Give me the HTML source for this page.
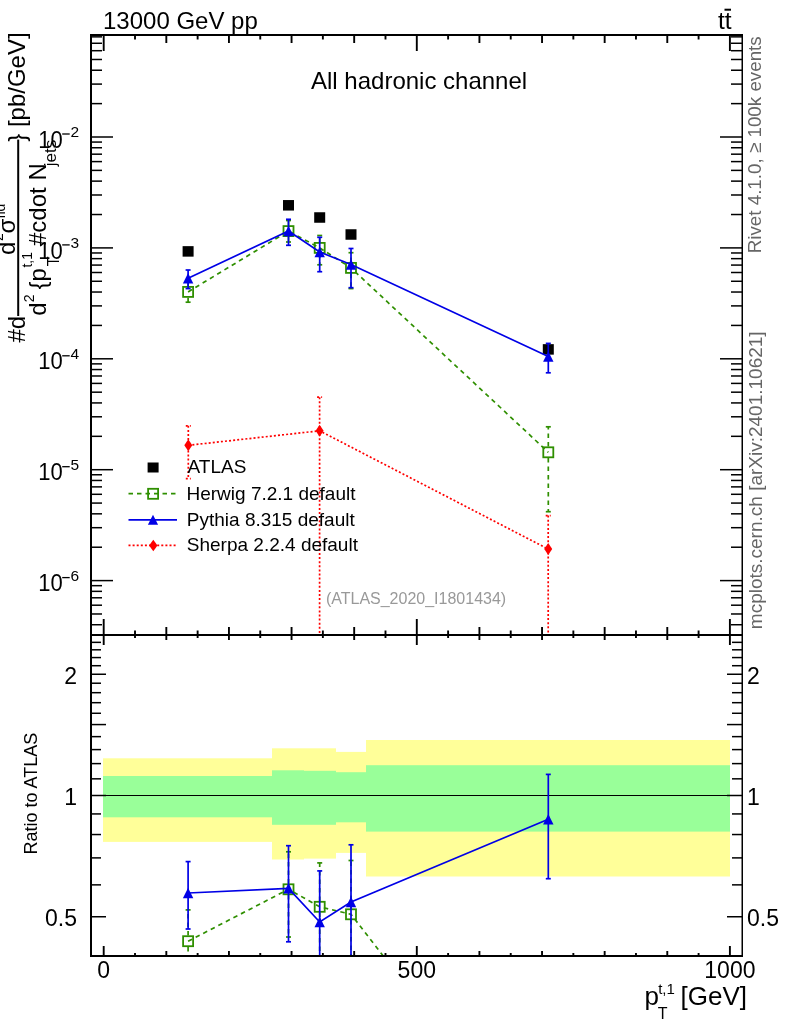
<!DOCTYPE html>
<html><head><meta charset="utf-8"><style>
html,body{margin:0;padding:0;background:#fff;}
svg{display:block;will-change:transform;}
text{font-family:"Liberation Sans", sans-serif;}
</style></head><body>
<svg width="786" height="1024" viewBox="0 0 786 1024">
<rect x="103.0" y="758.3" width="169.0" height="83.6" fill="#ffff99"/>
<rect x="272.0" y="748.3" width="32.0" height="111.2" fill="#ffff99"/>
<rect x="304.0" y="748.3" width="32.0" height="110.3" fill="#ffff99"/>
<rect x="336.0" y="751.9" width="30.0" height="101.0" fill="#ffff99"/>
<rect x="366.0" y="740.0" width="364.0" height="136.5" fill="#ffff99"/>
<rect x="103.0" y="776.0" width="169.0" height="41.3" fill="#99ff99"/>
<rect x="272.0" y="770.3" width="32.0" height="54.5" fill="#99ff99"/>
<rect x="304.0" y="770.8" width="32.0" height="54.0" fill="#99ff99"/>
<rect x="336.0" y="772.2" width="30.0" height="50.1" fill="#99ff99"/>
<rect x="366.0" y="765.2" width="364.0" height="66.4" fill="#99ff99"/>
<line x1="91" y1="795.5" x2="742" y2="795.5" stroke="#000" stroke-width="1.2"/>
<svg x="91" y="35" width="651" height="600" viewBox="91 35 651 600" overflow="hidden">
<rect x="182.60" y="246.15" width="11" height="10.5" fill="#000"/>
<rect x="283.00" y="200.05" width="11" height="10.5" fill="#000"/>
<rect x="314.20" y="212.25" width="11" height="10.5" fill="#000"/>
<rect x="345.50" y="229.25" width="11" height="10.5" fill="#000"/>
<rect x="542.80" y="344.15" width="11" height="10.5" fill="#000"/>
<polyline points="188.30,445.30 319.60,430.80 548.20,549.10" fill="none" stroke="#ff0000" stroke-width="1.7" stroke-dasharray="2 2.1"/>
<line x1="188.30" y1="425.80" x2="188.30" y2="478.70" stroke="#ff0000" stroke-width="1.7" stroke-dasharray="2 2.1"/><line x1="185.80" y1="425.80" x2="190.80" y2="425.80" stroke="#ff0000" stroke-width="1.7" stroke-dasharray="2 2.1"/><line x1="185.80" y1="478.70" x2="190.80" y2="478.70" stroke="#ff0000" stroke-width="1.7" stroke-dasharray="2 2.1"/>
<line x1="319.60" y1="397.20" x2="319.60" y2="640.00" stroke="#ff0000" stroke-width="1.7" stroke-dasharray="2 2.1"/><line x1="317.10" y1="397.20" x2="322.10" y2="397.20" stroke="#ff0000" stroke-width="1.7" stroke-dasharray="2 2.1"/>
<line x1="548.20" y1="515.60" x2="548.20" y2="640.00" stroke="#ff0000" stroke-width="1.7" stroke-dasharray="2 2.1"/><line x1="545.70" y1="515.60" x2="550.70" y2="515.60" stroke="#ff0000" stroke-width="1.7" stroke-dasharray="2 2.1"/>
<path d="M188.30,439.30 L192.30,445.30 L188.30,451.30 L184.30,445.30 Z" fill="#ff0000"/>
<path d="M319.60,424.80 L323.60,430.80 L319.60,436.80 L315.60,430.80 Z" fill="#ff0000"/>
<path d="M548.20,543.10 L552.20,549.10 L548.20,555.10 L544.20,549.10 Z" fill="#ff0000"/>
<polyline points="188.10,291.90 288.50,231.10 319.70,247.90 351.00,267.90 548.30,452.30" fill="none" stroke="#2f8f00" stroke-width="1.7" stroke-dasharray="4.5 4"/>
<line x1="188.10" y1="286.10" x2="188.10" y2="282.00" stroke="#2f8f00" stroke-width="1.7" stroke-dasharray="4.5 4"/><line x1="185.60" y1="282.00" x2="190.60" y2="282.00" stroke="#2f8f00" stroke-width="1.7"/><line x1="188.10" y1="297.70" x2="188.10" y2="302.20" stroke="#2f8f00" stroke-width="1.7" stroke-dasharray="4.5 4"/><line x1="185.60" y1="302.20" x2="190.60" y2="302.20" stroke="#2f8f00" stroke-width="1.7"/>
<line x1="288.50" y1="225.30" x2="288.50" y2="220.50" stroke="#2f8f00" stroke-width="1.7" stroke-dasharray="4.5 4"/><line x1="286.00" y1="220.50" x2="291.00" y2="220.50" stroke="#2f8f00" stroke-width="1.7"/><line x1="288.50" y1="236.90" x2="288.50" y2="242.00" stroke="#2f8f00" stroke-width="1.7" stroke-dasharray="4.5 4"/><line x1="286.00" y1="242.00" x2="291.00" y2="242.00" stroke="#2f8f00" stroke-width="1.7"/>
<line x1="319.70" y1="242.10" x2="319.70" y2="235.50" stroke="#2f8f00" stroke-width="1.7" stroke-dasharray="4.5 4"/><line x1="317.20" y1="235.50" x2="322.20" y2="235.50" stroke="#2f8f00" stroke-width="1.7"/><line x1="319.70" y1="253.70" x2="319.70" y2="264.80" stroke="#2f8f00" stroke-width="1.7" stroke-dasharray="4.5 4"/><line x1="317.20" y1="264.80" x2="322.20" y2="264.80" stroke="#2f8f00" stroke-width="1.7"/>
<line x1="351.00" y1="262.10" x2="351.00" y2="252.70" stroke="#2f8f00" stroke-width="1.7" stroke-dasharray="4.5 4"/><line x1="348.50" y1="252.70" x2="353.50" y2="252.70" stroke="#2f8f00" stroke-width="1.7"/><line x1="351.00" y1="273.70" x2="351.00" y2="288.60" stroke="#2f8f00" stroke-width="1.7" stroke-dasharray="4.5 4"/><line x1="348.50" y1="288.60" x2="353.50" y2="288.60" stroke="#2f8f00" stroke-width="1.7"/>
<line x1="548.30" y1="446.50" x2="548.30" y2="426.80" stroke="#2f8f00" stroke-width="1.7" stroke-dasharray="4.5 4"/><line x1="545.80" y1="426.80" x2="550.80" y2="426.80" stroke="#2f8f00" stroke-width="1.7"/><line x1="548.30" y1="458.10" x2="548.30" y2="511.70" stroke="#2f8f00" stroke-width="1.7" stroke-dasharray="4.5 4"/><line x1="545.80" y1="511.70" x2="550.80" y2="511.70" stroke="#2f8f00" stroke-width="1.7"/>
<rect x="183.10" y="286.90" width="10" height="10" fill="none" stroke="#2f8f00" stroke-width="1.8"/>
<rect x="283.50" y="226.10" width="10" height="10" fill="none" stroke="#2f8f00" stroke-width="1.8"/>
<rect x="314.70" y="242.90" width="10" height="10" fill="none" stroke="#2f8f00" stroke-width="1.8"/>
<rect x="346.00" y="262.90" width="10" height="10" fill="none" stroke="#2f8f00" stroke-width="1.8"/>
<rect x="543.30" y="447.30" width="10" height="10" fill="none" stroke="#2f8f00" stroke-width="1.8"/>
<polyline points="188.10,278.30 288.50,231.00 319.70,252.00 351.00,264.50 548.30,356.50" fill="none" stroke="#0000e6" stroke-width="1.7"/>
<line x1="188.10" y1="270.00" x2="188.10" y2="288.60" stroke="#0000e6" stroke-width="1.7"/><line x1="185.60" y1="270.00" x2="190.60" y2="270.00" stroke="#0000e6" stroke-width="1.7"/><line x1="185.60" y1="288.60" x2="190.60" y2="288.60" stroke="#0000e6" stroke-width="1.7"/>
<line x1="288.50" y1="219.30" x2="288.50" y2="245.30" stroke="#0000e6" stroke-width="1.7"/><line x1="286.00" y1="219.30" x2="291.00" y2="219.30" stroke="#0000e6" stroke-width="1.7"/><line x1="286.00" y1="245.30" x2="291.00" y2="245.30" stroke="#0000e6" stroke-width="1.7"/>
<line x1="319.70" y1="237.30" x2="319.70" y2="271.70" stroke="#0000e6" stroke-width="1.7"/><line x1="317.20" y1="237.30" x2="322.20" y2="237.30" stroke="#0000e6" stroke-width="1.7"/><line x1="317.20" y1="271.70" x2="322.20" y2="271.70" stroke="#0000e6" stroke-width="1.7"/>
<line x1="351.00" y1="248.50" x2="351.00" y2="287.70" stroke="#0000e6" stroke-width="1.7"/><line x1="348.50" y1="248.50" x2="353.50" y2="248.50" stroke="#0000e6" stroke-width="1.7"/><line x1="348.50" y1="287.70" x2="353.50" y2="287.70" stroke="#0000e6" stroke-width="1.7"/>
<line x1="548.30" y1="343.40" x2="548.30" y2="372.80" stroke="#0000e6" stroke-width="1.7"/><line x1="545.80" y1="343.40" x2="550.80" y2="343.40" stroke="#0000e6" stroke-width="1.7"/><line x1="545.80" y1="372.80" x2="550.80" y2="372.80" stroke="#0000e6" stroke-width="1.7"/>
<path d="M182.90,283.55 L193.30,283.55 L188.10,273.05 Z" fill="#0000e6"/>
<path d="M283.30,236.25 L293.70,236.25 L288.50,225.75 Z" fill="#0000e6"/>
<path d="M314.50,257.25 L324.90,257.25 L319.70,246.75 Z" fill="#0000e6"/>
<path d="M345.80,269.75 L356.20,269.75 L351.00,259.25 Z" fill="#0000e6"/>
<path d="M543.10,361.75 L553.50,361.75 L548.30,351.25 Z" fill="#0000e6"/>
</svg>
<svg x="91" y="635" width="651" height="321" viewBox="91 635 651 321" overflow="hidden">
<polyline points="188.10,941.20 288.50,889.30 319.70,906.80 351.00,914.30 548.30,1169.30" fill="none" stroke="#2f8f00" stroke-width="1.7" stroke-dasharray="4.5 4"/>
<line x1="188.10" y1="935.40" x2="188.10" y2="909.90" stroke="#2f8f00" stroke-width="1.7" stroke-dasharray="4.5 4"/><line x1="185.60" y1="909.90" x2="190.60" y2="909.90" stroke="#2f8f00" stroke-width="1.7"/><line x1="188.10" y1="947.00" x2="188.10" y2="975.00" stroke="#2f8f00" stroke-width="1.7" stroke-dasharray="4.5 4"/>
<line x1="288.50" y1="883.50" x2="288.50" y2="851.80" stroke="#2f8f00" stroke-width="1.7" stroke-dasharray="4.5 4"/><line x1="286.00" y1="851.80" x2="291.00" y2="851.80" stroke="#2f8f00" stroke-width="1.7"/><line x1="288.50" y1="895.10" x2="288.50" y2="937.00" stroke="#2f8f00" stroke-width="1.7" stroke-dasharray="4.5 4"/><line x1="286.00" y1="937.00" x2="291.00" y2="937.00" stroke="#2f8f00" stroke-width="1.7"/>
<line x1="319.70" y1="901.00" x2="319.70" y2="862.90" stroke="#2f8f00" stroke-width="1.7" stroke-dasharray="4.5 4"/><line x1="317.20" y1="862.90" x2="322.20" y2="862.90" stroke="#2f8f00" stroke-width="1.7"/><line x1="319.70" y1="912.60" x2="319.70" y2="960.00" stroke="#2f8f00" stroke-width="1.7" stroke-dasharray="4.5 4"/>
<line x1="351.00" y1="908.50" x2="351.00" y2="860.50" stroke="#2f8f00" stroke-width="1.7" stroke-dasharray="4.5 4"/><line x1="348.50" y1="860.50" x2="353.50" y2="860.50" stroke="#2f8f00" stroke-width="1.7"/><line x1="351.00" y1="920.10" x2="351.00" y2="975.00" stroke="#2f8f00" stroke-width="1.7" stroke-dasharray="4.5 4"/>
<rect x="183.10" y="936.20" width="10" height="10" fill="none" stroke="#2f8f00" stroke-width="1.8"/>
<rect x="283.50" y="884.30" width="10" height="10" fill="none" stroke="#2f8f00" stroke-width="1.8"/>
<rect x="314.70" y="901.80" width="10" height="10" fill="none" stroke="#2f8f00" stroke-width="1.8"/>
<rect x="346.00" y="909.30" width="10" height="10" fill="none" stroke="#2f8f00" stroke-width="1.8"/>
<rect x="543.30" y="1164.30" width="10" height="10" fill="none" stroke="#2f8f00" stroke-width="1.8"/>
<polyline points="188.10,893.00 288.50,888.30 319.70,922.00 351.00,902.00 548.30,819.20" fill="none" stroke="#0000e6" stroke-width="1.7"/>
<line x1="188.10" y1="861.60" x2="188.10" y2="929.00" stroke="#0000e6" stroke-width="1.7"/><line x1="185.60" y1="861.60" x2="190.60" y2="861.60" stroke="#0000e6" stroke-width="1.7"/><line x1="185.60" y1="929.00" x2="190.60" y2="929.00" stroke="#0000e6" stroke-width="1.7"/>
<line x1="288.50" y1="845.70" x2="288.50" y2="941.80" stroke="#0000e6" stroke-width="1.7"/><line x1="286.00" y1="845.70" x2="291.00" y2="845.70" stroke="#0000e6" stroke-width="1.7"/><line x1="286.00" y1="941.80" x2="291.00" y2="941.80" stroke="#0000e6" stroke-width="1.7"/>
<line x1="319.70" y1="870.90" x2="319.70" y2="990.00" stroke="#0000e6" stroke-width="1.7"/><line x1="317.20" y1="870.90" x2="322.20" y2="870.90" stroke="#0000e6" stroke-width="1.7"/>
<line x1="351.00" y1="844.80" x2="351.00" y2="990.00" stroke="#0000e6" stroke-width="1.7"/><line x1="348.50" y1="844.80" x2="353.50" y2="844.80" stroke="#0000e6" stroke-width="1.7"/>
<line x1="548.30" y1="774.40" x2="548.30" y2="878.70" stroke="#0000e6" stroke-width="1.7"/><line x1="545.80" y1="774.40" x2="550.80" y2="774.40" stroke="#0000e6" stroke-width="1.7"/><line x1="545.80" y1="878.70" x2="550.80" y2="878.70" stroke="#0000e6" stroke-width="1.7"/>
<path d="M182.90,898.25 L193.30,898.25 L188.10,887.75 Z" fill="#0000e6"/>
<path d="M283.30,893.55 L293.70,893.55 L288.50,883.05 Z" fill="#0000e6"/>
<path d="M314.50,927.25 L324.90,927.25 L319.70,916.75 Z" fill="#0000e6"/>
<path d="M345.80,907.25 L356.20,907.25 L351.00,896.75 Z" fill="#0000e6"/>
<path d="M543.10,824.45 L553.50,824.45 L548.30,813.95 Z" fill="#0000e6"/>
</svg>
<line x1="103.70" y1="35.00" x2="103.70" y2="51.00" stroke="#000" stroke-width="1.9"/>
<line x1="103.70" y1="635.00" x2="103.70" y2="619.00" stroke="#000" stroke-width="1.9"/>
<line x1="103.70" y1="635.00" x2="103.70" y2="645.00" stroke="#000" stroke-width="1.9"/>
<line x1="103.70" y1="956.00" x2="103.70" y2="946.00" stroke="#000" stroke-width="1.9"/>
<line x1="135.01" y1="35.00" x2="135.01" y2="39.50" stroke="#000" stroke-width="1.9"/>
<line x1="135.01" y1="635.00" x2="135.01" y2="630.50" stroke="#000" stroke-width="1.9"/>
<line x1="135.01" y1="635.00" x2="135.01" y2="638.00" stroke="#000" stroke-width="1.9"/>
<line x1="135.01" y1="956.00" x2="135.01" y2="953.00" stroke="#000" stroke-width="1.9"/>
<line x1="166.32" y1="35.00" x2="166.32" y2="43.00" stroke="#000" stroke-width="1.9"/>
<line x1="166.32" y1="635.00" x2="166.32" y2="627.00" stroke="#000" stroke-width="1.9"/>
<line x1="166.32" y1="635.00" x2="166.32" y2="640.00" stroke="#000" stroke-width="1.9"/>
<line x1="166.32" y1="956.00" x2="166.32" y2="951.00" stroke="#000" stroke-width="1.9"/>
<line x1="197.63" y1="35.00" x2="197.63" y2="39.50" stroke="#000" stroke-width="1.9"/>
<line x1="197.63" y1="635.00" x2="197.63" y2="630.50" stroke="#000" stroke-width="1.9"/>
<line x1="197.63" y1="635.00" x2="197.63" y2="638.00" stroke="#000" stroke-width="1.9"/>
<line x1="197.63" y1="956.00" x2="197.63" y2="953.00" stroke="#000" stroke-width="1.9"/>
<line x1="228.94" y1="35.00" x2="228.94" y2="43.00" stroke="#000" stroke-width="1.9"/>
<line x1="228.94" y1="635.00" x2="228.94" y2="627.00" stroke="#000" stroke-width="1.9"/>
<line x1="228.94" y1="635.00" x2="228.94" y2="640.00" stroke="#000" stroke-width="1.9"/>
<line x1="228.94" y1="956.00" x2="228.94" y2="951.00" stroke="#000" stroke-width="1.9"/>
<line x1="260.25" y1="35.00" x2="260.25" y2="39.50" stroke="#000" stroke-width="1.9"/>
<line x1="260.25" y1="635.00" x2="260.25" y2="630.50" stroke="#000" stroke-width="1.9"/>
<line x1="260.25" y1="635.00" x2="260.25" y2="638.00" stroke="#000" stroke-width="1.9"/>
<line x1="260.25" y1="956.00" x2="260.25" y2="953.00" stroke="#000" stroke-width="1.9"/>
<line x1="291.56" y1="35.00" x2="291.56" y2="43.00" stroke="#000" stroke-width="1.9"/>
<line x1="291.56" y1="635.00" x2="291.56" y2="627.00" stroke="#000" stroke-width="1.9"/>
<line x1="291.56" y1="635.00" x2="291.56" y2="640.00" stroke="#000" stroke-width="1.9"/>
<line x1="291.56" y1="956.00" x2="291.56" y2="951.00" stroke="#000" stroke-width="1.9"/>
<line x1="322.87" y1="35.00" x2="322.87" y2="39.50" stroke="#000" stroke-width="1.9"/>
<line x1="322.87" y1="635.00" x2="322.87" y2="630.50" stroke="#000" stroke-width="1.9"/>
<line x1="322.87" y1="635.00" x2="322.87" y2="638.00" stroke="#000" stroke-width="1.9"/>
<line x1="322.87" y1="956.00" x2="322.87" y2="953.00" stroke="#000" stroke-width="1.9"/>
<line x1="354.18" y1="35.00" x2="354.18" y2="43.00" stroke="#000" stroke-width="1.9"/>
<line x1="354.18" y1="635.00" x2="354.18" y2="627.00" stroke="#000" stroke-width="1.9"/>
<line x1="354.18" y1="635.00" x2="354.18" y2="640.00" stroke="#000" stroke-width="1.9"/>
<line x1="354.18" y1="956.00" x2="354.18" y2="951.00" stroke="#000" stroke-width="1.9"/>
<line x1="385.49" y1="35.00" x2="385.49" y2="39.50" stroke="#000" stroke-width="1.9"/>
<line x1="385.49" y1="635.00" x2="385.49" y2="630.50" stroke="#000" stroke-width="1.9"/>
<line x1="385.49" y1="635.00" x2="385.49" y2="638.00" stroke="#000" stroke-width="1.9"/>
<line x1="385.49" y1="956.00" x2="385.49" y2="953.00" stroke="#000" stroke-width="1.9"/>
<line x1="416.80" y1="35.00" x2="416.80" y2="51.00" stroke="#000" stroke-width="1.9"/>
<line x1="416.80" y1="635.00" x2="416.80" y2="619.00" stroke="#000" stroke-width="1.9"/>
<line x1="416.80" y1="635.00" x2="416.80" y2="645.00" stroke="#000" stroke-width="1.9"/>
<line x1="416.80" y1="956.00" x2="416.80" y2="946.00" stroke="#000" stroke-width="1.9"/>
<line x1="448.11" y1="35.00" x2="448.11" y2="39.50" stroke="#000" stroke-width="1.9"/>
<line x1="448.11" y1="635.00" x2="448.11" y2="630.50" stroke="#000" stroke-width="1.9"/>
<line x1="448.11" y1="635.00" x2="448.11" y2="638.00" stroke="#000" stroke-width="1.9"/>
<line x1="448.11" y1="956.00" x2="448.11" y2="953.00" stroke="#000" stroke-width="1.9"/>
<line x1="479.42" y1="35.00" x2="479.42" y2="43.00" stroke="#000" stroke-width="1.9"/>
<line x1="479.42" y1="635.00" x2="479.42" y2="627.00" stroke="#000" stroke-width="1.9"/>
<line x1="479.42" y1="635.00" x2="479.42" y2="640.00" stroke="#000" stroke-width="1.9"/>
<line x1="479.42" y1="956.00" x2="479.42" y2="951.00" stroke="#000" stroke-width="1.9"/>
<line x1="510.73" y1="35.00" x2="510.73" y2="39.50" stroke="#000" stroke-width="1.9"/>
<line x1="510.73" y1="635.00" x2="510.73" y2="630.50" stroke="#000" stroke-width="1.9"/>
<line x1="510.73" y1="635.00" x2="510.73" y2="638.00" stroke="#000" stroke-width="1.9"/>
<line x1="510.73" y1="956.00" x2="510.73" y2="953.00" stroke="#000" stroke-width="1.9"/>
<line x1="542.04" y1="35.00" x2="542.04" y2="43.00" stroke="#000" stroke-width="1.9"/>
<line x1="542.04" y1="635.00" x2="542.04" y2="627.00" stroke="#000" stroke-width="1.9"/>
<line x1="542.04" y1="635.00" x2="542.04" y2="640.00" stroke="#000" stroke-width="1.9"/>
<line x1="542.04" y1="956.00" x2="542.04" y2="951.00" stroke="#000" stroke-width="1.9"/>
<line x1="573.35" y1="35.00" x2="573.35" y2="39.50" stroke="#000" stroke-width="1.9"/>
<line x1="573.35" y1="635.00" x2="573.35" y2="630.50" stroke="#000" stroke-width="1.9"/>
<line x1="573.35" y1="635.00" x2="573.35" y2="638.00" stroke="#000" stroke-width="1.9"/>
<line x1="573.35" y1="956.00" x2="573.35" y2="953.00" stroke="#000" stroke-width="1.9"/>
<line x1="604.66" y1="35.00" x2="604.66" y2="43.00" stroke="#000" stroke-width="1.9"/>
<line x1="604.66" y1="635.00" x2="604.66" y2="627.00" stroke="#000" stroke-width="1.9"/>
<line x1="604.66" y1="635.00" x2="604.66" y2="640.00" stroke="#000" stroke-width="1.9"/>
<line x1="604.66" y1="956.00" x2="604.66" y2="951.00" stroke="#000" stroke-width="1.9"/>
<line x1="635.97" y1="35.00" x2="635.97" y2="39.50" stroke="#000" stroke-width="1.9"/>
<line x1="635.97" y1="635.00" x2="635.97" y2="630.50" stroke="#000" stroke-width="1.9"/>
<line x1="635.97" y1="635.00" x2="635.97" y2="638.00" stroke="#000" stroke-width="1.9"/>
<line x1="635.97" y1="956.00" x2="635.97" y2="953.00" stroke="#000" stroke-width="1.9"/>
<line x1="667.28" y1="35.00" x2="667.28" y2="43.00" stroke="#000" stroke-width="1.9"/>
<line x1="667.28" y1="635.00" x2="667.28" y2="627.00" stroke="#000" stroke-width="1.9"/>
<line x1="667.28" y1="635.00" x2="667.28" y2="640.00" stroke="#000" stroke-width="1.9"/>
<line x1="667.28" y1="956.00" x2="667.28" y2="951.00" stroke="#000" stroke-width="1.9"/>
<line x1="698.59" y1="35.00" x2="698.59" y2="39.50" stroke="#000" stroke-width="1.9"/>
<line x1="698.59" y1="635.00" x2="698.59" y2="630.50" stroke="#000" stroke-width="1.9"/>
<line x1="698.59" y1="635.00" x2="698.59" y2="638.00" stroke="#000" stroke-width="1.9"/>
<line x1="698.59" y1="956.00" x2="698.59" y2="953.00" stroke="#000" stroke-width="1.9"/>
<line x1="729.90" y1="35.00" x2="729.90" y2="51.00" stroke="#000" stroke-width="1.9"/>
<line x1="729.90" y1="635.00" x2="729.90" y2="619.00" stroke="#000" stroke-width="1.9"/>
<line x1="729.90" y1="635.00" x2="729.90" y2="645.00" stroke="#000" stroke-width="1.9"/>
<line x1="729.90" y1="956.00" x2="729.90" y2="946.00" stroke="#000" stroke-width="1.9"/>
<line x1="91.00" y1="624.73" x2="102.00" y2="624.73" stroke="#000" stroke-width="1.5"/>
<line x1="742.00" y1="624.73" x2="731.00" y2="624.73" stroke="#000" stroke-width="1.5"/>
<line x1="91.00" y1="613.98" x2="102.00" y2="613.98" stroke="#000" stroke-width="1.5"/>
<line x1="742.00" y1="613.98" x2="731.00" y2="613.98" stroke="#000" stroke-width="1.5"/>
<line x1="91.00" y1="605.20" x2="102.00" y2="605.20" stroke="#000" stroke-width="1.5"/>
<line x1="742.00" y1="605.20" x2="731.00" y2="605.20" stroke="#000" stroke-width="1.5"/>
<line x1="91.00" y1="597.78" x2="102.00" y2="597.78" stroke="#000" stroke-width="1.5"/>
<line x1="742.00" y1="597.78" x2="731.00" y2="597.78" stroke="#000" stroke-width="1.5"/>
<line x1="91.00" y1="591.35" x2="102.00" y2="591.35" stroke="#000" stroke-width="1.5"/>
<line x1="742.00" y1="591.35" x2="731.00" y2="591.35" stroke="#000" stroke-width="1.5"/>
<line x1="91.00" y1="585.67" x2="102.00" y2="585.67" stroke="#000" stroke-width="1.5"/>
<line x1="742.00" y1="585.67" x2="731.00" y2="585.67" stroke="#000" stroke-width="1.5"/>
<line x1="91.00" y1="580.60" x2="113.00" y2="580.60" stroke="#000" stroke-width="1.5"/>
<line x1="742.00" y1="580.60" x2="720.00" y2="580.60" stroke="#000" stroke-width="1.5"/>
<line x1="91.00" y1="547.22" x2="102.00" y2="547.22" stroke="#000" stroke-width="1.5"/>
<line x1="742.00" y1="547.22" x2="731.00" y2="547.22" stroke="#000" stroke-width="1.5"/>
<line x1="91.00" y1="527.69" x2="102.00" y2="527.69" stroke="#000" stroke-width="1.5"/>
<line x1="742.00" y1="527.69" x2="731.00" y2="527.69" stroke="#000" stroke-width="1.5"/>
<line x1="91.00" y1="513.83" x2="102.00" y2="513.83" stroke="#000" stroke-width="1.5"/>
<line x1="742.00" y1="513.83" x2="731.00" y2="513.83" stroke="#000" stroke-width="1.5"/>
<line x1="91.00" y1="503.08" x2="102.00" y2="503.08" stroke="#000" stroke-width="1.5"/>
<line x1="742.00" y1="503.08" x2="731.00" y2="503.08" stroke="#000" stroke-width="1.5"/>
<line x1="91.00" y1="494.30" x2="102.00" y2="494.30" stroke="#000" stroke-width="1.5"/>
<line x1="742.00" y1="494.30" x2="731.00" y2="494.30" stroke="#000" stroke-width="1.5"/>
<line x1="91.00" y1="486.88" x2="102.00" y2="486.88" stroke="#000" stroke-width="1.5"/>
<line x1="742.00" y1="486.88" x2="731.00" y2="486.88" stroke="#000" stroke-width="1.5"/>
<line x1="91.00" y1="480.45" x2="102.00" y2="480.45" stroke="#000" stroke-width="1.5"/>
<line x1="742.00" y1="480.45" x2="731.00" y2="480.45" stroke="#000" stroke-width="1.5"/>
<line x1="91.00" y1="474.77" x2="102.00" y2="474.77" stroke="#000" stroke-width="1.5"/>
<line x1="742.00" y1="474.77" x2="731.00" y2="474.77" stroke="#000" stroke-width="1.5"/>
<line x1="91.00" y1="469.70" x2="113.00" y2="469.70" stroke="#000" stroke-width="1.5"/>
<line x1="742.00" y1="469.70" x2="720.00" y2="469.70" stroke="#000" stroke-width="1.5"/>
<line x1="91.00" y1="436.32" x2="102.00" y2="436.32" stroke="#000" stroke-width="1.5"/>
<line x1="742.00" y1="436.32" x2="731.00" y2="436.32" stroke="#000" stroke-width="1.5"/>
<line x1="91.00" y1="416.79" x2="102.00" y2="416.79" stroke="#000" stroke-width="1.5"/>
<line x1="742.00" y1="416.79" x2="731.00" y2="416.79" stroke="#000" stroke-width="1.5"/>
<line x1="91.00" y1="402.93" x2="102.00" y2="402.93" stroke="#000" stroke-width="1.5"/>
<line x1="742.00" y1="402.93" x2="731.00" y2="402.93" stroke="#000" stroke-width="1.5"/>
<line x1="91.00" y1="392.18" x2="102.00" y2="392.18" stroke="#000" stroke-width="1.5"/>
<line x1="742.00" y1="392.18" x2="731.00" y2="392.18" stroke="#000" stroke-width="1.5"/>
<line x1="91.00" y1="383.40" x2="102.00" y2="383.40" stroke="#000" stroke-width="1.5"/>
<line x1="742.00" y1="383.40" x2="731.00" y2="383.40" stroke="#000" stroke-width="1.5"/>
<line x1="91.00" y1="375.98" x2="102.00" y2="375.98" stroke="#000" stroke-width="1.5"/>
<line x1="742.00" y1="375.98" x2="731.00" y2="375.98" stroke="#000" stroke-width="1.5"/>
<line x1="91.00" y1="369.55" x2="102.00" y2="369.55" stroke="#000" stroke-width="1.5"/>
<line x1="742.00" y1="369.55" x2="731.00" y2="369.55" stroke="#000" stroke-width="1.5"/>
<line x1="91.00" y1="363.87" x2="102.00" y2="363.87" stroke="#000" stroke-width="1.5"/>
<line x1="742.00" y1="363.87" x2="731.00" y2="363.87" stroke="#000" stroke-width="1.5"/>
<line x1="91.00" y1="358.80" x2="113.00" y2="358.80" stroke="#000" stroke-width="1.5"/>
<line x1="742.00" y1="358.80" x2="720.00" y2="358.80" stroke="#000" stroke-width="1.5"/>
<line x1="91.00" y1="325.42" x2="102.00" y2="325.42" stroke="#000" stroke-width="1.5"/>
<line x1="742.00" y1="325.42" x2="731.00" y2="325.42" stroke="#000" stroke-width="1.5"/>
<line x1="91.00" y1="305.89" x2="102.00" y2="305.89" stroke="#000" stroke-width="1.5"/>
<line x1="742.00" y1="305.89" x2="731.00" y2="305.89" stroke="#000" stroke-width="1.5"/>
<line x1="91.00" y1="292.03" x2="102.00" y2="292.03" stroke="#000" stroke-width="1.5"/>
<line x1="742.00" y1="292.03" x2="731.00" y2="292.03" stroke="#000" stroke-width="1.5"/>
<line x1="91.00" y1="281.28" x2="102.00" y2="281.28" stroke="#000" stroke-width="1.5"/>
<line x1="742.00" y1="281.28" x2="731.00" y2="281.28" stroke="#000" stroke-width="1.5"/>
<line x1="91.00" y1="272.50" x2="102.00" y2="272.50" stroke="#000" stroke-width="1.5"/>
<line x1="742.00" y1="272.50" x2="731.00" y2="272.50" stroke="#000" stroke-width="1.5"/>
<line x1="91.00" y1="265.08" x2="102.00" y2="265.08" stroke="#000" stroke-width="1.5"/>
<line x1="742.00" y1="265.08" x2="731.00" y2="265.08" stroke="#000" stroke-width="1.5"/>
<line x1="91.00" y1="258.65" x2="102.00" y2="258.65" stroke="#000" stroke-width="1.5"/>
<line x1="742.00" y1="258.65" x2="731.00" y2="258.65" stroke="#000" stroke-width="1.5"/>
<line x1="91.00" y1="252.97" x2="102.00" y2="252.97" stroke="#000" stroke-width="1.5"/>
<line x1="742.00" y1="252.97" x2="731.00" y2="252.97" stroke="#000" stroke-width="1.5"/>
<line x1="91.00" y1="247.90" x2="113.00" y2="247.90" stroke="#000" stroke-width="1.5"/>
<line x1="742.00" y1="247.90" x2="720.00" y2="247.90" stroke="#000" stroke-width="1.5"/>
<line x1="91.00" y1="214.52" x2="102.00" y2="214.52" stroke="#000" stroke-width="1.5"/>
<line x1="742.00" y1="214.52" x2="731.00" y2="214.52" stroke="#000" stroke-width="1.5"/>
<line x1="91.00" y1="194.99" x2="102.00" y2="194.99" stroke="#000" stroke-width="1.5"/>
<line x1="742.00" y1="194.99" x2="731.00" y2="194.99" stroke="#000" stroke-width="1.5"/>
<line x1="91.00" y1="181.13" x2="102.00" y2="181.13" stroke="#000" stroke-width="1.5"/>
<line x1="742.00" y1="181.13" x2="731.00" y2="181.13" stroke="#000" stroke-width="1.5"/>
<line x1="91.00" y1="170.38" x2="102.00" y2="170.38" stroke="#000" stroke-width="1.5"/>
<line x1="742.00" y1="170.38" x2="731.00" y2="170.38" stroke="#000" stroke-width="1.5"/>
<line x1="91.00" y1="161.60" x2="102.00" y2="161.60" stroke="#000" stroke-width="1.5"/>
<line x1="742.00" y1="161.60" x2="731.00" y2="161.60" stroke="#000" stroke-width="1.5"/>
<line x1="91.00" y1="154.18" x2="102.00" y2="154.18" stroke="#000" stroke-width="1.5"/>
<line x1="742.00" y1="154.18" x2="731.00" y2="154.18" stroke="#000" stroke-width="1.5"/>
<line x1="91.00" y1="147.75" x2="102.00" y2="147.75" stroke="#000" stroke-width="1.5"/>
<line x1="742.00" y1="147.75" x2="731.00" y2="147.75" stroke="#000" stroke-width="1.5"/>
<line x1="91.00" y1="142.07" x2="102.00" y2="142.07" stroke="#000" stroke-width="1.5"/>
<line x1="742.00" y1="142.07" x2="731.00" y2="142.07" stroke="#000" stroke-width="1.5"/>
<line x1="91.00" y1="137.00" x2="113.00" y2="137.00" stroke="#000" stroke-width="1.5"/>
<line x1="742.00" y1="137.00" x2="720.00" y2="137.00" stroke="#000" stroke-width="1.5"/>
<line x1="91.00" y1="103.62" x2="102.00" y2="103.62" stroke="#000" stroke-width="1.5"/>
<line x1="742.00" y1="103.62" x2="731.00" y2="103.62" stroke="#000" stroke-width="1.5"/>
<line x1="91.00" y1="84.09" x2="102.00" y2="84.09" stroke="#000" stroke-width="1.5"/>
<line x1="742.00" y1="84.09" x2="731.00" y2="84.09" stroke="#000" stroke-width="1.5"/>
<line x1="91.00" y1="70.23" x2="102.00" y2="70.23" stroke="#000" stroke-width="1.5"/>
<line x1="742.00" y1="70.23" x2="731.00" y2="70.23" stroke="#000" stroke-width="1.5"/>
<line x1="91.00" y1="59.48" x2="102.00" y2="59.48" stroke="#000" stroke-width="1.5"/>
<line x1="742.00" y1="59.48" x2="731.00" y2="59.48" stroke="#000" stroke-width="1.5"/>
<line x1="91.00" y1="50.70" x2="102.00" y2="50.70" stroke="#000" stroke-width="1.5"/>
<line x1="742.00" y1="50.70" x2="731.00" y2="50.70" stroke="#000" stroke-width="1.5"/>
<line x1="91.00" y1="43.28" x2="102.00" y2="43.28" stroke="#000" stroke-width="1.5"/>
<line x1="742.00" y1="43.28" x2="731.00" y2="43.28" stroke="#000" stroke-width="1.5"/>
<line x1="91.00" y1="36.85" x2="102.00" y2="36.85" stroke="#000" stroke-width="1.5"/>
<line x1="742.00" y1="36.85" x2="731.00" y2="36.85" stroke="#000" stroke-width="1.5"/>
<line x1="91.00" y1="916.75" x2="106.00" y2="916.75" stroke="#000" stroke-width="1.5"/>
<line x1="742.00" y1="916.75" x2="727.00" y2="916.75" stroke="#000" stroke-width="1.5"/>
<line x1="91.00" y1="884.86" x2="101.00" y2="884.86" stroke="#000" stroke-width="1.5"/>
<line x1="742.00" y1="884.86" x2="732.00" y2="884.86" stroke="#000" stroke-width="1.5"/>
<line x1="91.00" y1="857.89" x2="101.00" y2="857.89" stroke="#000" stroke-width="1.5"/>
<line x1="742.00" y1="857.89" x2="732.00" y2="857.89" stroke="#000" stroke-width="1.5"/>
<line x1="91.00" y1="834.54" x2="101.00" y2="834.54" stroke="#000" stroke-width="1.5"/>
<line x1="742.00" y1="834.54" x2="732.00" y2="834.54" stroke="#000" stroke-width="1.5"/>
<line x1="91.00" y1="813.93" x2="101.00" y2="813.93" stroke="#000" stroke-width="1.5"/>
<line x1="742.00" y1="813.93" x2="732.00" y2="813.93" stroke="#000" stroke-width="1.5"/>
<line x1="91.00" y1="795.50" x2="106.00" y2="795.50" stroke="#000" stroke-width="1.5"/>
<line x1="742.00" y1="795.50" x2="727.00" y2="795.50" stroke="#000" stroke-width="1.5"/>
<line x1="91.00" y1="778.83" x2="101.00" y2="778.83" stroke="#000" stroke-width="1.5"/>
<line x1="742.00" y1="778.83" x2="732.00" y2="778.83" stroke="#000" stroke-width="1.5"/>
<line x1="91.00" y1="763.61" x2="101.00" y2="763.61" stroke="#000" stroke-width="1.5"/>
<line x1="742.00" y1="763.61" x2="732.00" y2="763.61" stroke="#000" stroke-width="1.5"/>
<line x1="91.00" y1="749.60" x2="101.00" y2="749.60" stroke="#000" stroke-width="1.5"/>
<line x1="742.00" y1="749.60" x2="732.00" y2="749.60" stroke="#000" stroke-width="1.5"/>
<line x1="91.00" y1="736.64" x2="101.00" y2="736.64" stroke="#000" stroke-width="1.5"/>
<line x1="742.00" y1="736.64" x2="732.00" y2="736.64" stroke="#000" stroke-width="1.5"/>
<line x1="91.00" y1="724.57" x2="106.00" y2="724.57" stroke="#000" stroke-width="1.5"/>
<line x1="742.00" y1="724.57" x2="727.00" y2="724.57" stroke="#000" stroke-width="1.5"/>
<line x1="91.00" y1="713.28" x2="101.00" y2="713.28" stroke="#000" stroke-width="1.5"/>
<line x1="742.00" y1="713.28" x2="732.00" y2="713.28" stroke="#000" stroke-width="1.5"/>
<line x1="91.00" y1="702.68" x2="101.00" y2="702.68" stroke="#000" stroke-width="1.5"/>
<line x1="742.00" y1="702.68" x2="732.00" y2="702.68" stroke="#000" stroke-width="1.5"/>
<line x1="91.00" y1="692.68" x2="101.00" y2="692.68" stroke="#000" stroke-width="1.5"/>
<line x1="742.00" y1="692.68" x2="732.00" y2="692.68" stroke="#000" stroke-width="1.5"/>
<line x1="91.00" y1="683.22" x2="101.00" y2="683.22" stroke="#000" stroke-width="1.5"/>
<line x1="742.00" y1="683.22" x2="732.00" y2="683.22" stroke="#000" stroke-width="1.5"/>
<line x1="91.00" y1="674.25" x2="106.00" y2="674.25" stroke="#000" stroke-width="1.5"/>
<line x1="742.00" y1="674.25" x2="727.00" y2="674.25" stroke="#000" stroke-width="1.5"/>
<line x1="91.00" y1="665.71" x2="101.00" y2="665.71" stroke="#000" stroke-width="1.5"/>
<line x1="742.00" y1="665.71" x2="732.00" y2="665.71" stroke="#000" stroke-width="1.5"/>
<line x1="91.00" y1="657.57" x2="101.00" y2="657.57" stroke="#000" stroke-width="1.5"/>
<line x1="742.00" y1="657.57" x2="732.00" y2="657.57" stroke="#000" stroke-width="1.5"/>
<line x1="91.00" y1="649.80" x2="101.00" y2="649.80" stroke="#000" stroke-width="1.5"/>
<line x1="742.00" y1="649.80" x2="732.00" y2="649.80" stroke="#000" stroke-width="1.5"/>
<line x1="91.00" y1="642.35" x2="101.00" y2="642.35" stroke="#000" stroke-width="1.5"/>
<line x1="742.00" y1="642.35" x2="732.00" y2="642.35" stroke="#000" stroke-width="1.5"/>
<path d="M91,34 V957" stroke="#000" stroke-width="2" fill="none"/>
<path d="M742.25,34 V957" stroke="#000" stroke-width="1.5" fill="none"/>
<path d="M90,35 H743" stroke="#000" stroke-width="2" fill="none"/>
<path d="M90,635 H743" stroke="#000" stroke-width="2" fill="none"/>
<path d="M90,956 H743" stroke="#000" stroke-width="2" fill="none"/>
<text x="103.00" y="28.60" font-size="24" fill="#000">13000 GeV pp</text>
<text x="718.00" y="29.20" font-size="24.5" fill="#000">tt</text>
<line x1="724.5" y1="9.7" x2="731" y2="9.7" stroke="#000" stroke-width="2"/>
<text x="311.00" y="89.00" font-size="24" fill="#000">All hadronic channel</text>
<rect x="147.60" y="462.50" width="11" height="10" fill="#000"/>
<text x="187.60" y="472.60" font-size="19" fill="#000">ATLAS</text>
<line x1="128.5" y1="493.6" x2="176" y2="493.6" stroke="#2f8f00" stroke-width="1.7" stroke-dasharray="4.5 4"/>
<rect x="148.10" y="488.80" width="10" height="10" fill="none" stroke="#2f8f00" stroke-width="1.8"/>
<text x="186.50" y="499.60" font-size="19" fill="#000">Herwig 7.2.1 default</text>
<line x1="128.5" y1="519.8" x2="177" y2="519.8" stroke="#0000e6" stroke-width="1.7"/>
<path d="M147.90,524.80 L158.10,524.80 L153.00,514.80 Z" fill="#0000e6"/>
<text x="186.80" y="525.60" font-size="19" fill="#000">Pythia 8.315 default</text>
<line x1="128.5" y1="545.4" x2="177" y2="545.4" stroke="#ff0000" stroke-width="1.6" stroke-dasharray="2 2.1"/>
<path d="M153.30,539.70 L157.50,545.50 L153.30,551.30 L149.10,545.50 Z" fill="#ff0000"/>
<text x="186.80" y="551.20" font-size="19" fill="#000">Sherpa 2.2.4 default</text>
<text x="325.90" y="603.80" font-size="16" fill="#999999">(ATLAS_2020_I1801434)</text>
<text transform="translate(38.20,147.60) scale(1,1.06)" font-size="22" fill="#000">10</text>
<line x1="62.2" y1="134.00" x2="69.7" y2="134.00" stroke="#000" stroke-width="1.3"/>
<text x="70.40" y="137.40" font-size="15.5" fill="#000">2</text>
<text transform="translate(38.20,258.50) scale(1,1.06)" font-size="22" fill="#000">10</text>
<line x1="62.2" y1="244.90" x2="69.7" y2="244.90" stroke="#000" stroke-width="1.3"/>
<text x="70.40" y="248.30" font-size="15.5" fill="#000">3</text>
<text transform="translate(38.20,369.40) scale(1,1.06)" font-size="22" fill="#000">10</text>
<line x1="62.2" y1="355.80" x2="69.7" y2="355.80" stroke="#000" stroke-width="1.3"/>
<text x="70.40" y="359.20" font-size="15.5" fill="#000">4</text>
<text transform="translate(38.20,480.30) scale(1,1.06)" font-size="22" fill="#000">10</text>
<line x1="62.2" y1="466.70" x2="69.7" y2="466.70" stroke="#000" stroke-width="1.3"/>
<text x="70.40" y="470.10" font-size="15.5" fill="#000">5</text>
<text transform="translate(38.20,591.20) scale(1,1.06)" font-size="22" fill="#000">10</text>
<line x1="62.2" y1="577.60" x2="69.7" y2="577.60" stroke="#000" stroke-width="1.3"/>
<text x="70.40" y="581.00" font-size="15.5" fill="#000">6</text>
<text x="77.00" y="683.55" font-size="23" text-anchor="end" fill="#000">2</text>
<text x="747.00" y="683.55" font-size="23" fill="#000">2</text>
<text x="77.00" y="804.80" font-size="23" text-anchor="end" fill="#000">1</text>
<text x="747.00" y="804.80" font-size="23" fill="#000">1</text>
<text x="77.00" y="926.05" font-size="23" text-anchor="end" fill="#000">0.5</text>
<text x="747.00" y="926.05" font-size="23" fill="#000">0.5</text>
<text x="103.70" y="978.20" font-size="23" text-anchor="middle" fill="#000">0</text>
<text x="416.80" y="978.20" font-size="23" text-anchor="middle" fill="#000">500</text>
<text x="729.90" y="978.20" font-size="23" text-anchor="middle" fill="#000">1000</text>
<text x="644.50" y="1004.70" font-size="26" fill="#000">p</text>
<text x="658.20" y="994.20" font-size="15" fill="#000">t,1</text>
<text x="657.80" y="1019.40" font-size="16" fill="#000">T</text>
<text x="680.50" y="1004.70" font-size="26" fill="#000">[GeV]</text>
<text transform="translate(37.00,854.50) rotate(-90)" font-size="18" fill="#000">Ratio to ATLAS</text>
<text transform="translate(760.60,253.30) rotate(-90)" font-size="18.8" fill="#666666">Rivet 4.1.0, &#8805; 100k events</text>
<text transform="translate(762.00,629.20) rotate(-90)" font-size="19" fill="#666666">mcplots.cern.ch [arXiv:2401.10621]</text>
<text transform="translate(24.50,342.50) rotate(-90)" font-size="24" fill="#000">#d</text>
<line x1="18.2" y1="316" x2="18.2" y2="139.6" stroke="#000" stroke-width="2"/>
<text transform="translate(24.50,141.80) rotate(-90)" font-size="24" fill="#000">} [pb/GeV]</text>
<text transform="translate(14.50,255.00) rotate(-90)" font-size="24" fill="#000">d</text>
<text transform="translate(3.00,241.00) rotate(-90)" font-size="14" fill="#000">2</text>
<text transform="translate(14.50,233.50) rotate(-90)" font-size="24" fill="#000">&#963;</text>
<text transform="translate(5.00,218.50) rotate(-90)" font-size="14" fill="#000">fid</text>
<text transform="translate(46.30,315.80) rotate(-90)" font-size="24" fill="#000">d</text>
<text transform="translate(34.40,302.20) rotate(-90)" font-size="14" fill="#000">2</text>
<text transform="translate(46.30,289.50) rotate(-90)" font-size="24" fill="#000">{p</text>
<text transform="translate(31.50,267.60) rotate(-90)" font-size="14" fill="#000">t,1</text>
<text transform="translate(59.40,266.20) rotate(-90)" font-size="16" fill="#000">T</text>
<text transform="translate(46.30,246.00) rotate(-90)" font-size="24" fill="#000">#cdot N</text>
<text transform="translate(55.60,166.20) rotate(-90)" font-size="17" fill="#000">jets</text>
</svg>
</body></html>
